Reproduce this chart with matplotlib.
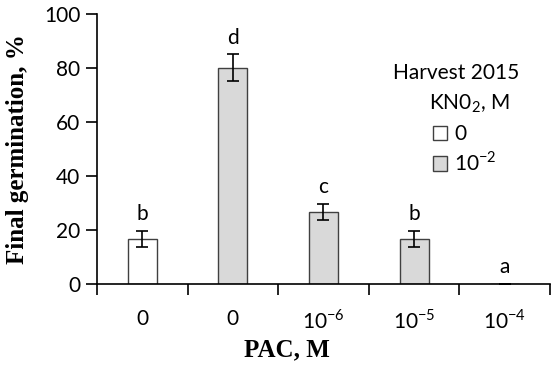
import numpy as np
import matplotlib.pyplot as plt
from matplotlib.patches import Patch

# data
categories = ['0', '0', r'10$^{\mathregular{-6}}$', r'10$^{\mathregular{-5}}$', r'10$^{\mathregular{-4}}$']
values = [16.7, 80.0, 26.7, 16.7, 0.0]
errors = [3.0, 5.0, 3.0, 3.0, 0.0]
letters = ['b', 'd', 'c', 'b', 'a']
kno2_group = [0, 1, 1, 1, 1]  # 0 -> no KNO2, 1 -> 10^-2
group_labels = ['0', r'10$^{\mathregular{-2}}$']
group_colors = ['white', '#d9d9d9']

plt.rcParams['font.family'] = ['Lato', 'DejaVu Sans']
plt.rcParams['mathtext.fontset'] = 'custom'
plt.rcParams['mathtext.rm'] = 'Lato'

fig = plt.figure(figsize=(5.51, 3.66), dpi=100)
ax = fig.add_axes([0.176, 0.224, 0.822, 0.738])

x = np.arange(len(values))
colors = [group_colors[g] for g in kno2_group]
ax.bar(x, values, width=0.32, color=colors, edgecolor='#404040', linewidth=1.0,
       yerr=errors, capsize=4, error_kw={'elinewidth': 1.2, 'capthick': 1.2, 'ecolor': 'black'})

for xi, v, e, lt in zip(x, values, errors, letters):
    ax.text(xi, v + e + 2.5, lt, ha='center', va='bottom', fontsize=15)

ax.set_xlim(-0.5, len(values) - 0.5)
ax.set_ylim(0, 100)
ax.set_yticks([0, 20, 40, 60, 80, 100])
ax.set_xticks(x)
ax.set_xticklabels(categories)
ax.set_xticks(np.arange(-0.5, len(values)), minor=True)
ax.tick_params(axis='x', which='major', length=0, pad=18, labelsize=15)
ax.tick_params(axis='x', which='minor', length=8, width=1.2, direction='out')
ax.tick_params(axis='y', length=8, width=1.2, direction='out', labelsize=15, pad=4)

for s in ['top', 'right']:
    ax.spines[s].set_visible(False)
for s in ['left', 'bottom']:
    ax.spines[s].set_linewidth(1.2)

ax.set_ylabel('Final germination, %', family='Liberation Serif', fontweight='bold', fontsize=18, labelpad=11)
ax.set_xlabel('PAC, M', family='Liberation Serif', fontweight='bold', fontsize=18, labelpad=8)
ax.xaxis.set_label_coords(0.42, -0.2)

# legend
fig.text(0.713, 0.80, 'Harvest 2015', fontsize=15, va='center')
fig.text(0.778, 0.718, r'KN0$_{\mathregular{2}}$, M', fontsize=15, va='center')
handles = [Patch(facecolor=c, edgecolor='#404040', linewidth=1.0) for c in group_colors]
ax.legend(handles, group_labels, loc='upper left', bbox_to_anchor=(0.785, 0.66),
          bbox_transform=fig.transFigure, frameon=False, fontsize=15,
          handlelength=0.7, handleheight=0.7, handletextpad=0.35, labelspacing=0.3,
          borderaxespad=0, borderpad=0)

fig.savefig('out.png', dpi=100)
